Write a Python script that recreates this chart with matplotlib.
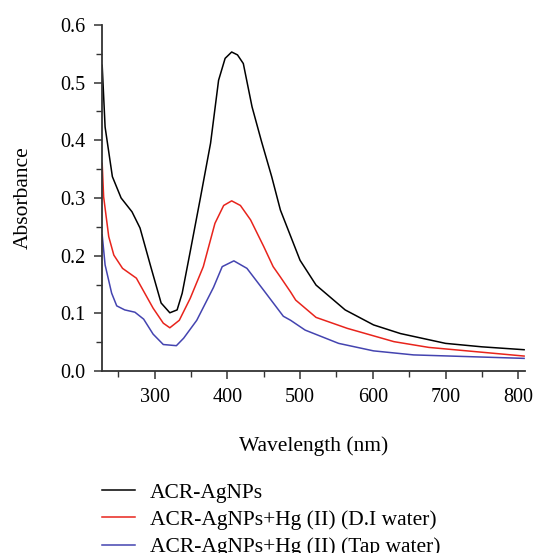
import matplotlib
matplotlib.use("Agg")
import matplotlib.pyplot as plt
from matplotlib.ticker import MultipleLocator

plt.rcParams['font.family'] = ['Liberation Serif', 'DejaVu Serif']

# ACR-AgNPs
wl_a = [228, 232, 242, 254, 269, 280, 295, 309, 321, 331, 338, 349, 363, 377, 388, 397, 406,
        414, 422, 434, 447, 461, 473, 500, 522, 562, 601, 638, 700, 750, 808]
ab_a = [0.53, 0.423, 0.337, 0.30, 0.276, 0.248, 0.18, 0.118, 0.101, 0.106, 0.135, 0.207, 0.30,
        0.395, 0.504, 0.542, 0.553, 0.548, 0.533, 0.458, 0.398, 0.337, 0.279, 0.192, 0.149,
        0.106, 0.080, 0.065, 0.048, 0.042, 0.037]

# ACR-AgNPs+Hg (II) (D.I water)
wl_b = [228, 230, 237, 244, 256, 275, 298, 312, 321, 334, 349, 367, 383, 395, 406, 418, 432,
        450, 463, 473, 487, 494, 522, 565, 629, 677, 808]
ab_b = [0.36, 0.302, 0.233, 0.201, 0.178, 0.161, 0.109, 0.083, 0.075, 0.088, 0.126, 0.181,
        0.256, 0.287, 0.295, 0.287, 0.262, 0.216, 0.181, 0.163, 0.137, 0.123, 0.093, 0.074,
        0.051, 0.041, 0.026]

# ACR-AgNPs+Hg (II) (Tap water)
wl_c = [228, 232, 241, 248, 259, 273, 285, 298, 312, 330, 340, 358, 381, 393, 409, 427, 450,
        477, 487, 507, 553, 601, 656, 808]
ab_c = [0.236, 0.184, 0.135, 0.113, 0.106, 0.102, 0.090, 0.064, 0.046, 0.044, 0.057, 0.088,
        0.145, 0.181, 0.191, 0.178, 0.140, 0.095, 0.088, 0.071, 0.048, 0.035, 0.028, 0.022]

fig = plt.figure(figsize=(5.35, 5.53), dpi=100)
ax = fig.add_axes([0.191, 0.329, 0.790, 0.626])

l1, = ax.plot(wl_a, ab_a, color='black', lw=1.1)
l2, = ax.plot(wl_b, ab_b, color='#e8241c', lw=1.1)
l3, = ax.plot(wl_c, ab_c, color='#4444b0', lw=1.1)

ax.set_xlim(228, 809)
ax.set_ylim(0, 0.6)
ax.xaxis.set_major_locator(MultipleLocator(100))
ax.xaxis.set_minor_locator(MultipleLocator(50))
ax.yaxis.set_major_locator(MultipleLocator(0.1))
ax.yaxis.set_minor_locator(MultipleLocator(0.05))
ax.yaxis.set_major_formatter(plt.FormatStrFormatter('%.1f'))

for s in ['top', 'right']:
    ax.spines[s].set_visible(False)
for s in ['left', 'bottom']:
    ax.spines[s].set_color('#333333')
    ax.spines[s].set_linewidth(1.3)

ax.tick_params(which='major', direction='out', length=6, width=1.1, labelsize=14.5, colors='#333333',
               labelcolor='black', pad=6)
ax.tick_params(which='minor', direction='out', length=4, width=1.0, colors='#333333')

ax.set_xlabel('Wavelength (nm)', fontsize=15.5, labelpad=21)
ax.set_ylabel('Absorbance', fontsize=15.5, labelpad=20)

fig.legend([l1, l2, l3],
           ['ACR-AgNPs', 'ACR-AgNPs+Hg (II) (D.I water)', 'ACR-AgNPs+Hg (II) (Tap water)'],
           loc='upper left', bbox_to_anchor=(0.19, 0.127), frameon=False, fontsize=15.5,
           handlelength=1.55, handletextpad=0.7, labelspacing=0.33, borderpad=0,
           borderaxespad=0)

fig.savefig('out.png', dpi=100)
